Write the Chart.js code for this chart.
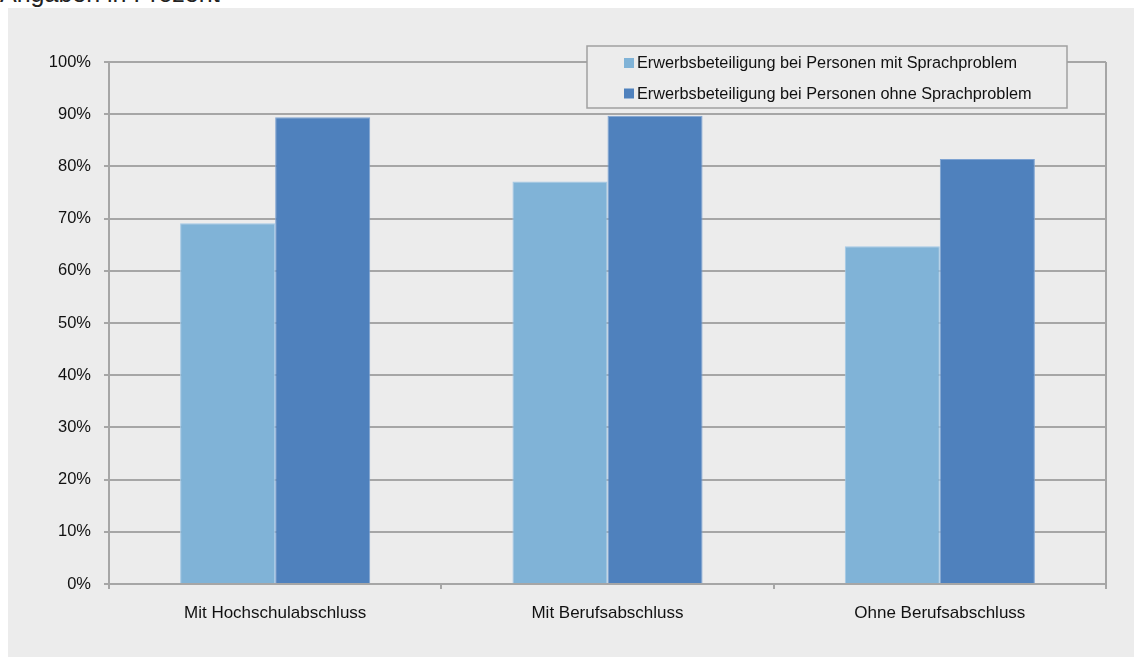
<!DOCTYPE html>
<html>
<head>
<meta charset="utf-8">
<script src="https://cdn.jsdelivr.net/npm/chart.js@4/dist/chart.umd.min.js"></script>
<style>
    body { margin: 0; background: #fff; font-family: "Liberation Sans", Arial, sans-serif; }
    .caption { position: absolute; left: 0; top: -21px; font-size: 25px; color: #222; white-space: nowrap; }
    .panel { position: absolute; left: 8px; top: 8px; width: 1126px; height: 649px; background: #ececec; }
</style>
</head>
<body>
<div class="caption">Angaben in Prozent</div>
<div class="panel"><canvas id="chart" width="1126" height="649"></canvas></div>
<script>
// Chart data
const categories = ['Mit Hochschulabschluss', 'Mit Berufsabschluss', 'Ohne Berufsabschluss'];
const seriesLabels = [
    'Erwerbsbeteiligung bei Personen mit Sprachproblem',
    'Erwerbsbeteiligung bei Personen ohne Sprachproblem'
];
const mitSprachproblem = [69.1, 77.1, 64.7];
const ohneSprachproblem = [89.4, 89.7, 81.4];
const yTicks = [0, 10, 20, 30, 40, 50, 60, 70, 80, 90, 100];

const lineColor = '#a6a6a6';
const family = '"Liberation Sans", Arial, sans-serif';
const tickFont = { family: family, size: 16.5 };
const catFont = { family: family, size: 17 };

// legend box drawn over the plot, like the original
const boxLegend = {
    id: 'boxLegend',
    afterDraw(chart) {
        const ctx = chart.ctx;
        const x = 579, y = 38, w = 480, h = 62;
        ctx.save();
        ctx.fillStyle = '#ececec';
        ctx.fillRect(x, y, w, h);
        ctx.strokeStyle = '#a0a0a0';
        ctx.lineWidth = 1.5;
        ctx.strokeRect(x, y, w, h);
        ctx.font = `16.3px ${family}`;
        ctx.textBaseline = 'middle';
        chart.data.datasets.forEach((ds, i) => {
            const cy = y + 17 + i * 30.5;
            ctx.fillStyle = ds.backgroundColor;
            ctx.fillRect(x + 37, cy - 5, 10, 10);
            ctx.fillStyle = '#111';
            ctx.fillText(ds.label, x + 50, cy + 1);
        });
        ctx.restore();
    }
};

// right border of the plot area
const rightBorder = {
    id: 'rightBorder',
    beforeDatasetsDraw(chart) {
        const { ctx, chartArea } = chart;
        ctx.save();
        ctx.strokeStyle = lineColor;
        ctx.lineWidth = 2;
        ctx.beginPath();
        ctx.moveTo(chartArea.right, chartArea.top);
        ctx.lineTo(chartArea.right, chartArea.bottom + 5);
        ctx.stroke();
        ctx.restore();
    }
};

new Chart(document.getElementById('chart'), {
    type: 'bar',
    data: {
        labels: categories,
        datasets: [
            {
                label: seriesLabels[0],
                data: mitSprachproblem,
                backgroundColor: '#80b3d7',
                borderColor: '#a3c8e6',
                borderWidth: 1
            },
            {
                label: seriesLabels[1],
                data: ohneSprachproblem,
                backgroundColor: '#4f81bd',
                borderColor: '#7ea3d2',
                borderWidth: 1
            }
        ]
    },
    options: {
        responsive: false,
        animation: false,
        layout: { padding: { left: 0, top: 54, right: 28, bottom: 0 } },
        datasets: { bar: { categoryPercentage: 0.572, barPercentage: 1.0 } },
        plugins: {
            legend: { display: false },
            tooltip: { enabled: false }
        },
        scales: {
            x: {
                afterFit(scale) { scale.height = 73; },
                grid: { offset: true, drawOnChartArea: false, tickLength: 5, color: lineColor, lineWidth: 2 },
                border: { color: lineColor, width: 2 },
                ticks: { color: '#111', font: catFont, padding: 14, maxRotation: 0 }
            },
            y: {
                min: 0,
                max: 100,
                afterFit(scale) { scale.width = 101; },
                afterBuildTicks(scale) { scale.ticks = yTicks.map(v => ({ value: v })); },
                grid: { color: lineColor, lineWidth: 2, tickLength: 5 },
                border: { color: lineColor, width: 2 },
                ticks: { color: '#111', font: tickFont, padding: 13, callback: v => v + '%' }
            }
        }
    },
    plugins: [rightBorder, boxLegend]
});
</script>
</body>
</html>
